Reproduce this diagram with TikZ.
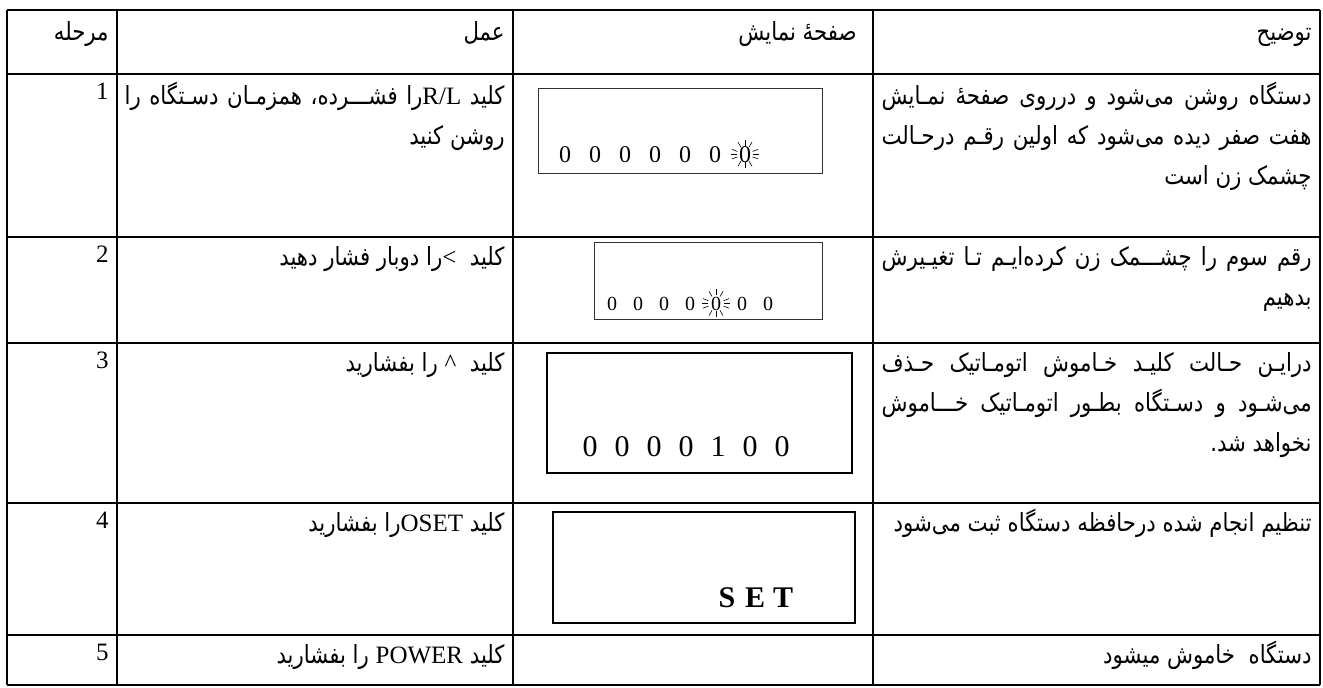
\documentclass[tikz,border=0pt]{standalone}
\usepackage{fontspec}
\setmainfont{Liberation Serif}
\newfontfamily\farsi[Script=Arabic,FakeStretch=0.85]{DejaVu Sans}
\TeXXeTstate=1
\newcommand{\la}[1]{\beginL{\rmfamily #1}\endL}
% widths of the justified lines
\newcommand{\notew}{215pt}
\newcommand{\actw}{190pt}

\tikzset{
  grid line/.style={line width=1.1pt},
  cell/.style={anchor=base east, inner sep=0pt, font=\farsi\fontsize{12.5}{14}\selectfont},
  num/.style={anchor=base east, inner sep=0pt, font=\fontsize{12.5}{14}\selectfont},
  lcd/.style={draw=black!80, line width=0.5pt},
  lcd scan/.style={draw=black, line width=1pt},
  digit/.style={anchor=base, inner sep=0pt, font=\fontsize{#1}{#1}\selectfont},
  ray/.style={line width=0.3pt},
}
% blinking rays round a digit
\newcommand{\blink}[1]{%
  \foreach \a in {0,20,60,90,120,160,180,200,240,270,300,340}
    \draw[ray] (#1.center) ++(\a:8) -- ++(\a:6);}

\begin{document}
\begin{tikzpicture}[x=0.5pt,y=-0.5pt]
		\useasboundingbox (0,0) rectangle (1323,687);
		
		% table rules
		\foreach \x in {7,117,513,873,1320}
			\draw[grid line] (\x,10) -- (\x,685);
		\foreach \y in {10,74,237,343,503,635,685}
			\draw[grid line] (7,\y) -- (1320,\y);
		
		% header
		\node[cell] (hstep) at (109,40) {\beginR مرحله\endR};
		\node[cell] (hact)  at (505,40) {\beginR عمل\endR};
		\node[cell] (hdisp) at (857,40) {\beginR صفحهٔ نمایش\endR};
		\node[cell] (hnote) at (1312,40) {\beginR توضیح\endR};
		
		% step numbers: n / baseline
		\foreach \n/\y in {1/99,2/262,3/368,4/528,5/660}
			\node[num] (step\n) at (109,\y) {\n};
		
		% row 1
		\node[cell] (act1a) at (505,104) {\hbox to \actw{\beginR کلید \la{R/L}را فشـــرده، همزمـان دسـتگاه را\endR}};
		\node[cell] (act1b) at (505,144) {\beginR روشن کنید\endR};
		\node[cell] (note1a) at (1312,104) {\hbox to \notew{\beginR دستگاه روشن می‌شود و درروی صفحهٔ نمـایش\endR}};
		\node[cell] (note1b) at (1312,144) {\hbox to \notew{\beginR هفت صفر دیده می‌شود که اولین رقـم درحـالت\endR}};
		\node[cell] (note1c) at (1312,184) {\beginR چشمک زن است\endR};
		\draw[lcd] (538,88) rectangle (822,173);
		\foreach \k in {0,...,6}
			\node[digit=12] (da\k) at ({565+30*\k},162) {0};
		\blink{da6}
		
		% row 2
		\node[cell] (act2) at (505,265) {\beginR کلید \ \la{<}را دوبار فشار دهید\endR};
		\node[cell] (note2a) at (1312,265) {\hbox to \notew{\beginR رقم سوم را چشـــمک زن کرده‌ایـم تـا تغیـیرش\endR}};
		\node[cell] (note2b) at (1312,305) {\beginR بدهیم\endR};
		\draw[lcd] (594,242) rectangle (822,319);
		\foreach \k in {0,...,6}
			\node[digit=10] (db\k) at ({612+26*\k},310) {0};
		\blink{db4}
		
		% row 3
		\node[cell] (act3) at (505,371) {\beginR کلید \ \la{\^{}} را بفشارید\endR};
		\node[cell] (note3a) at (1312,371) {\hbox to \notew{\beginR درایـن حـالت کلیـد خـاموش اتومـاتیک حـذف\endR}};
		\node[cell] (note3b) at (1312,411) {\hbox to \notew{\beginR می‌شـود و دسـتگاه بطـور اتومـاتیک خـــاموش\endR}};
		\node[cell] (note3c) at (1312,451) {\beginR نخواهد شد.\endR};
		\draw[lcd scan] (547,353) rectangle (852,473);
		\foreach \k/\d in {0/0,1/0,2/0,3/0,4/1,5/0,6/0}
			\node[digit=15] (dc\k) at ({590+32*\k},456) {\d};
		
		% row 4
		\node[cell] (act4) at (505,531) {\beginR کلید \la{OSET}را بفشارید\endR};
		\node[cell] (note4) at (1312,531) {\beginR تنظیم انجام شده درحافظه دستگاه ثبت می‌شود\endR};
		\draw[lcd scan] (553,512) rectangle (855,623);
		\foreach \k/\c in {0/S,1/E,2/T}
			\node[digit=15, font=\bfseries\fontsize{15}{15}\selectfont] (dd\k) at ({727+28*\k},607) {\c};
		
		% row 5
		\node[cell] (act5) at (505,663) {\beginR کلید \la{POWER} را بفشارید\endR};
		\node[cell] (note5) at (1312,663) {\beginR دستگاه \ خاموش میشود\endR};
		
	\end{tikzpicture}
\end{document}
